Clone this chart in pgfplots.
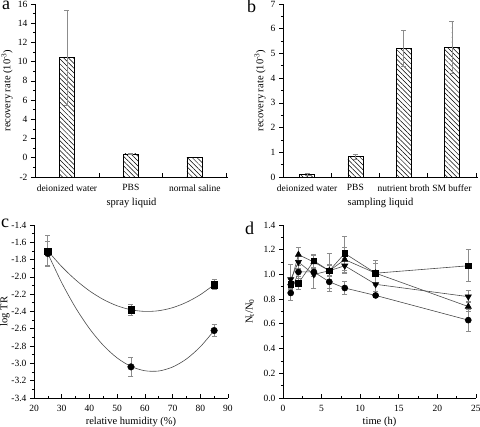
\documentclass[border=0pt]{standalone}
\usepackage{fontspec}
\setmainfont{Liberation Serif}
\usepackage{pgfplots}
\pgfplotsset{compat=1.18}
\usetikzlibrary{patterns.meta}
\definecolor{errgray}{gray}{0.55}
\definecolor{linegray}{gray}{0.3}
\pgfplotsset{
  panel/.style={
    scale only axis,
    axis x line=bottom, axis y line=left,
    axis line style={-, line width=0.8pt, black},
    xtick align=inside, ytick align=outside,
    major tick length=4pt, minor tick length=2.2pt,
    tick style={line width=0.7pt, black},
    tick label style={font=\fontsize{9.5}{10}\selectfont},
    xticklabel style={yshift=-4pt},
    label style={font=\fontsize{10.5}{12}\selectfont},
    /pgf/number format/assume math mode=true,
    xlabel style={at={(axis description cs:0.5,-0.15)}, anchor=center},
    clip=false,
  },
  hatch/.style={draw=black, line width=0.8pt, pattern={Lines[angle=-45,distance=3.4pt,line width=0.5pt]}},
  errs/.style={error bars/.cd, y dir=both, y explicit,
    error bar style={draw=errgray, line width=0.8pt},
    error mark options={rotate=90, draw=errgray, mark size=2.5pt, line width=0.8pt}},
}
\begin{document}
\begin{tikzpicture}
\path[use as bounding box] (0pt,0pt) rectangle (480pt,427pt);

% ---------------- panel a
\begin{axis}[panel, at={(35pt,250pt)}, anchor=south west, width=193pt, height=173pt,
  xmin=-0.5, xmax=2.52, ymin=-2, ymax=16,
  xtick={0.5,1.5,2.5}, xticklabels={},
  extra x ticks={0,1,2}, extra x tick labels={deionized water,PBS,normal saline},
  extra x tick style={major tick length=0pt},
  ytick={-2,0,...,16}, minor ytick={-1,1,...,15},
  xlabel={spray liquid},
  ylabel={recovery rate (10\textsuperscript{-3})},
  ylabel style={at={(axis description cs:-0.145,0.5)}, anchor=center},
]
\addplot[hatch] coordinates {(-0.122,-2) (-0.122,10.4) (0.122,10.4) (0.122,-2)} -- cycle;
\addplot[hatch] coordinates {(0.878,-2) (0.878,0.4) (1.122,0.4) (1.122,-2)} -- cycle;
\addplot[hatch] coordinates {(1.878,-2) (1.878,0.05) (2.122,0.05) (2.122,-2)} -- cycle;
\addplot[draw=none, mark=none, errs] coordinates {
  (0,10.4) +- (0,4.9)
  (1,0.4) +- (0,0.08)
};
\end{axis}

% ---------------- panel b
\begin{axis}[panel, at={(283pt,250pt)}, anchor=south west, width=195pt, height=173pt,
  xmin=-0.5, xmax=3.54, ymin=0, ymax=7,
  xtick={0.5,1.5,2.5,3.5}, xticklabels={},
  extra x ticks={0,1,2,3}, extra x tick labels={deionized water,PBS,nutrient broth,SM buffer},
  extra x tick style={major tick length=0pt},
  ytick={0,1,...,7}, minor ytick={0.5,1.5,...,6.5},
  xlabel={sampling liquid},
  ylabel={recovery rate (10\textsuperscript{-3})},
  ylabel style={at={(axis description cs:-0.118,0.5)}, anchor=center},
]
\addplot[ybar, bar width=15pt, hatch, errs] coordinates {
  (0,0.10) +- (0,0.03)
  (1,0.82) +- (0,0.10)
  (2,5.20) +- (0,0.73)
  (3,5.25) +- (0,1.05)
};
\end{axis}

% ---------------- panel c
\begin{axis}[panel, at={(34pt,29pt)}, anchor=south west, width=194pt, height=173pt,
  xmin=20, xmax=90, ymin=-3.4, ymax=-1.4,
  xtick={20,30,...,90}, minor x tick num=1,
  ytick={-3.4,-3.2,...,-1.4}, minor y tick num=1,
  yticklabel style={/pgf/number format/.cd, fixed, fixed zerofill, precision=1},
  xlabel={relative humidity (\%)},
  xlabel style={at={(axis description cs:0.5,-0.138)}},
  ylabel={log TR},
  ylabel style={at={(axis description cs:-0.15,0.5)}, anchor=center},
]
\addplot[linegray, line width=0.6pt, smooth] coordinates {
  (25,-1.700) (30,-1.881) (35,-2.034) (40,-2.161) (45,-2.261) (50,-2.334) (55,-2.380)
  (60,-2.399) (65,-2.391) (70,-2.356) (75,-2.294) (80,-2.206) (85,-2.090)
};
\addplot[linegray, line width=0.6pt, smooth] coordinates {
  (25,-1.730) (30,-2.067) (35,-2.356) (40,-2.597) (45,-2.791) (50,-2.937) (55,-3.035)
  (60,-3.085) (65,-3.088) (70,-3.042) (75,-2.949) (80,-2.808) (85,-2.620)
};
\addplot[only marks, mark=square*, mark size=3.2pt, black, errs] coordinates {
  (25,-1.70) +- (0,0.18)
  (55,-2.38) +- (0,0.06)
  (85,-2.09) +- (0,0.06)
};
\addplot[only marks, mark=*, mark size=3.3pt, black, errs] coordinates {
  (25,-1.73) +- (0,0.14)
  (55,-3.04) +- (0,0.11)
  (85,-2.62) +- (0,0.07)
};
\end{axis}

% ---------------- panel d
\begin{axis}[panel, at={(283pt,29pt)}, anchor=south west, width=193pt, height=173pt,
  xmin=0, xmax=25, ymin=0, ymax=1.4,
  xtick={0,5,...,25}, minor x tick num=1,
  ytick={0,0.2,...,1.4}, minor y tick num=1,
  yticklabel style={/pgf/number format/.cd, fixed, fixed zerofill, precision=1},
  xlabel={time (h)},
  xlabel style={at={(axis description cs:0.5,-0.138)}},
  ylabel={N\textsubscript{t}/N\textsubscript{0}},
  ylabel style={at={(axis description cs:-0.171,0.5)}, anchor=center},
]
\addplot[linegray, line width=0.6pt, mark=square*, mark size=2.9pt, mark options={black, fill=black}, errs] coordinates {
  (1,0.92) +- (0,0.04) (2,0.93) +- (0,0.05) (4,1.11) +- (0,0.05) (6,1.03) +- (0,0.04)
  (8,1.17) +- (0,0.14) (12,1.01) +- (0,0.10) (24,1.07) +- (0,0.13)
};
\addplot[linegray, line width=0.6pt, mark=triangle*, mark size=3.5pt, mark options={black, fill=black}, errs] coordinates {
  (1,0.93) +- (0,0.04) (2,1.16) +- (0,0.06) (4,1.10) +- (0,0.05) (6,1.03) +- (0,0.05)
  (8,1.12) +- (0,0.10) (12,1.01) +- (0,0.08) (24,0.74) +- (0,0.04)
};
\addplot[linegray, line width=0.6pt, mark=triangle*, mark size=3.5pt, mark options={black, fill=black, rotate=180}, errs] coordinates {
  (1,0.96) +- (0,0.12) (2,1.10) +- (0,0.05) (4,1.00) +- (0,0.11) (6,1.03) +- (0,0.14)
  (8,1.07) +- (0,0.06) (12,0.92) +- (0,0.06) (24,0.82) +- (0,0.05)
};
\addplot[linegray, line width=0.6pt, mark=*, mark size=3pt, mark options={black, fill=black}, errs] coordinates {
  (1,0.85) +- (0,0.06) (2,1.02) +- (0,0.05) (4,1.02) +- (0,0.04) (6,0.94) +- (0,0.08)
  (8,0.89) +- (0,0.05) (12,0.83) +- (0,0.02) (24,0.63) +- (0,0.09)
};
\end{axis}

\node[anchor=base west, inner sep=0pt, font=\fontsize{18}{18}\selectfont] at (2pt,417pt) {a};
\node[anchor=base west, inner sep=0pt, font=\fontsize{18}{18}\selectfont] at (247pt,414pt) {b};
\node[anchor=base west, inner sep=0pt, font=\fontsize{18}{18}\selectfont] at (1pt,199pt) {c};
\node[anchor=base west, inner sep=0pt, font=\fontsize{18}{18}\selectfont] at (245pt,192pt) {d};
\end{tikzpicture}
\end{document}
